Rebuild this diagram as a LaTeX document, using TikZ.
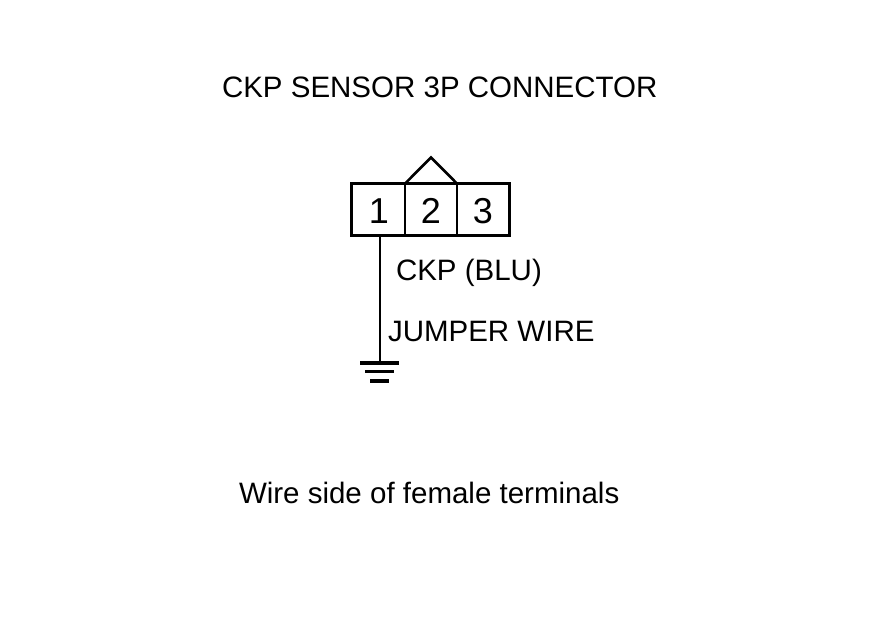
\documentclass[tikz,border=0pt]{standalone}
\usepackage{fontspec}
\setmainfont{Liberation Sans}
\tikzset{
  lab/.style={inner sep=0pt,outer sep=0pt,anchor=base west,font=\fontsize{29.5}{31}\selectfont},
  num/.style={inner sep=0pt,outer sep=0pt,anchor=base,font=\fontsize{36}{38}\selectfont},
  wire/.style={draw=black,line width=2pt},
  tent/.style={draw=black,line width=2.6pt},
  heavy/.style={draw=black,line width=3.2pt},
}
\begin{document}
\begin{tikzpicture}[x=1pt,y=-1pt]
\useasboundingbox (0,0) rectangle (880,630);
\fill[white] (0,0) rectangle (880,630);
\node[lab] (title) at (222,97) {CKP SENSOR 3P CONNECTOR};
\node[lab] (ckp) at (396,280) {CKP (BLU)};
\node[lab] (jump) at (388,341) {JUMPER WIRE};
\node[lab] (side) at (239,503) {Wire side of female terminals};
\coordinate (tl) at (351.6,183.6);
\coordinate (br) at (509.2,235.8);
\coordinate (d1t) at (405,183.6);
\coordinate (d1b) at (405,235.8);
\coordinate (d2t) at (457,183.6);
\coordinate (d2b) at (457,235.8);
\coordinate (apex) at (431,157.5);
\coordinate (w1) at (380.3,237);
\coordinate (g1) at (380.3,363);
\draw[wire] (d1t) -- (d1b);
\draw[wire] (d2t) -- (d2b);
\draw[tent,line join=miter] (d1t) -- (apex) -- (d2t);
\draw[heavy] (tl) rectangle (br);
\draw[wire] (w1) -- (g1);
\draw[heavy] (360,363) -- (399,363);
\draw[heavy] (365,371.5) -- (394,371.5);
\draw[heavy] (370,381) -- (389,381);
\node[num] (n1) at (379,223.5) {1};
\node[num] (n2) at (431,223.5) {2};
\node[num] (n3) at (483,223.5) {3};
\end{tikzpicture}
\end{document}
